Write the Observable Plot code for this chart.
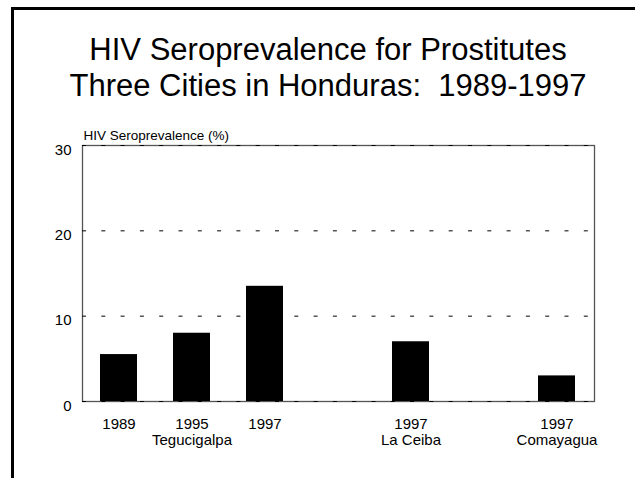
<!DOCTYPE html>
<html>
<head>
<meta charset="utf-8">
<script src="https://cdn.jsdelivr.net/npm/d3@7"></script>
<script src="https://cdn.jsdelivr.net/npm/@observablehq/plot@0.6"></script>
<style>
  html, body { margin: 0; padding: 0; background: #fff; }
  #page {
    position: relative; width: 640px; height: 478px; overflow: hidden;
    font-family: "Liberation Sans", Arial, Helvetica, sans-serif; color: #000;
  }
  /* heavy rules along the top and left edges of the slide */
  .edge { position: absolute; background: #000; z-index: 2; }
  #edge-top { left: 11px; top: 7px; width: 624px; height: 3px; }
  #edge-left { left: 11px; top: 7px; width: 3px; height: 471px; }
  #chart { position: absolute; left: 0; top: 0; z-index: 1; }
  #title {
    position: absolute; left: 8px; top: 32px; width: 640px; z-index: 1;
    text-align: center; font-size: 31px; line-height: 36px; white-space: pre;
  }
</style>
</head>
<body>
<div id="page">
  <div id="chart"></div>
  <div id="title"></div>
  <div class="edge" id="edge-top"></div>
  <div class="edge" id="edge-left"></div>
</div>
<script>
// Survey results: HIV seroprevalence among sex workers in three Honduran cities
const titleLines = ["HIV Seroprevalence for Prostitutes", "Three Cities in Honduras:  1989-1997"];
const yLabel = "HIV Seroprevalence (%)";

const cities = ["Tegucigalpa", "Tegucigalpa", "Tegucigalpa", "La Ceiba", "Comayagua"];
const years = ["1989", "1995", "1997", "1997", "1997"];
const values = [5.5, 8.0, 13.5, 7.0, 3.0];
const tickLabels = ["1989", "1995\nTegucigalpa", "1997", "1997\nLa Ceiba", "1997\nComayagua"];
const yTicks = [0, 10, 20, 30];

const rows = values.map((value, i) => ({
  key: `${cities[i]} ${years[i]}`,
  city: cities[i],
  year: years[i],
  value,
  label: tickLabels[i]
}));

// one empty slot separates each city from the next
const slots = [];
rows.forEach((d, i) => {
  if (i > 0 && d.city !== rows[i - 1].city) slots.push(`gap ${i}`);
  slots.push(d.key);
});
const labelOf = new Map(rows.map(d => [d.key, d.label]));

document.getElementById("title").textContent = titleLines.join("\n");

const chart = Plot.plot({
  width: 640,
  height: 478,
  marginLeft: 82,
  marginRight: 46,
  marginTop: 145,
  marginBottom: 77,
  style: {
    background: "none",
    color: "#000",
    fontFamily: "'Liberation Sans', Arial, Helvetica, sans-serif",
    overflow: "visible"
  },
  x: { type: "band", domain: slots, paddingInner: 0.49, paddingOuter: 0.245 },
  y: { domain: [0, 30] },
  marks: [
    Plot.frame({ stroke: "#555", strokeWidth: 1.3 }),
    Plot.ruleY(yTicks, { stroke: "#000", strokeWidth: 1, strokeDasharray: "4,15.3" }),
    Plot.barY(rows, { x: "key", y: "value", fill: "#000" }),
    Plot.axisY(yTicks, { tickSize: 0, tickPadding: 11, fontSize: 15, dy: 4.5, label: null }),
    Plot.axisX(rows.map(d => d.key), {
      tickSize: 0, tickPadding: 15.5, fontSize: 15, lineHeight: 1.11,
      tickFormat: k => labelOf.get(k), label: null
    }),
    Plot.text([yLabel], {
      frameAnchor: "top-left", textAnchor: "start", lineAnchor: "top",
      dx: 1, dy: -15, fontSize: 13.5, fill: "#000"
    })
  ]
});

document.getElementById("chart").appendChild(chart);
</script>
</body>
</html>
